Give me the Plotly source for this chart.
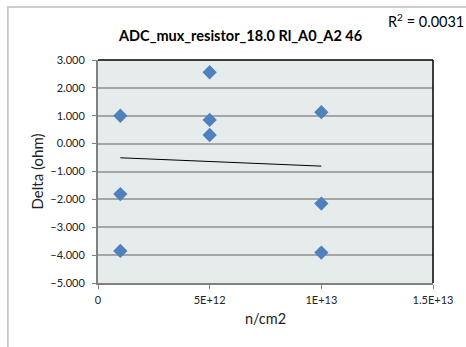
import numpy as np
import plotly.graph_objects as go

# Measured points (fluence in n/cm2, delta in ohm)
fluence = [1e12, 1e12, 1e12, 5e12, 5e12, 5e12, 1e13, 1e13, 1e13]
delta = [1.00, -1.81, -3.85, 2.56, 0.85, 0.31, 1.13, -2.15, -3.91]

x_tickvals = [0, 5e12, 1e13, 1.5e13]
x_ticktext = ["0", "5E+12", "1E+13", "1.5E+13"]
y_tickvals = [3, 2, 1, 0, -1, -2, -3, -4, -5]

title_text = "ADC_mux_resistor_18.0 Rl_A0_A2 46"
r2_text = "R<sup>2</sup> = 0.0031"

# Linear trendline fitted to the data
slope, intercept = np.polyfit(np.array(fluence) / 1e12, delta, 1)
trend_x = np.array([min(fluence), max(fluence)])
trend_y = slope * trend_x / 1e12 + intercept

FONT = "Lato, Open Sans, sans-serif"

fig = go.Figure()

fig.add_trace(
    go.Scatter(
        x=trend_x,
        y=trend_y,
        mode="lines",
        line=dict(color="black", width=1),
        hoverinfo="skip",
    )
)
fig.add_trace(
    go.Scatter(
        x=fluence,
        y=delta,
        mode="markers",
        marker=dict(symbol="diamond", size=11, color="#4F81BD"),
    )
)

fig.update_layout(
    width=466,
    height=347,
    showlegend=False,
    plot_bgcolor="#E6ECEC",
    paper_bgcolor="white",
    margin=dict(l=98, r=33, t=60, b=64),
    font=dict(family=FONT, size=11, color="#222222"),
    xaxis=dict(
        range=[0, 1.5e13],
        tickvals=x_tickvals,
        ticktext=x_ticktext,
        showgrid=False,
        zeroline=False,
        showline=True,
        linecolor="#808080",
        linewidth=2,
        ticks="outside",
        ticklen=4,
        tickcolor="#808080",
        ticklabelstandoff=2,
        title=dict(text="n/cm2", font=dict(size=14.5, family=FONT), standoff=9),
    ),
    yaxis=dict(
        range=[-5, 3],
        tickvals=y_tickvals,
        tickformat=".3f",
        showgrid=True,
        gridcolor="#A6A6A6",
        gridwidth=1.5,
        zeroline=False,
        showline=True,
        linecolor="#808080",
        linewidth=2,
        ticks="outside",
        ticklen=4,
        tickcolor="#808080",
        ticklabelstandoff=5,
        title=dict(text="Delta (ohm)", font=dict(size=15, family=FONT), standoff=3),
    ),
    shapes=[
        # outer chart border
        dict(type="rect", xref="paper", yref="paper",
             x0=-0.269, y0=-0.6, x1=1.3, y1=1.238,
             line=dict(color="#BFBFBF", width=1.5), layer="below"),
        # top and right edges of the plot area
        dict(type="line", xref="paper", yref="paper", x0=0, y0=1, x1=1, y1=1,
             line=dict(color="black", width=1.5)),
        dict(type="line", xref="paper", yref="paper", x0=1, y0=0, x1=1, y1=1,
             line=dict(color="black", width=1.5)),
    ],
    annotations=[
        dict(text="<b>" + title_text + "</b>", xref="paper", yref="paper",
             x=0.424, y=1.112, xanchor="center", yanchor="middle", showarrow=False,
             font=dict(size=14.5, color="black", family=FONT)),
        dict(text=r2_text, xref="paper", yref="paper",
             x=1.0985, y=1.179, xanchor="right", yanchor="middle", showarrow=False,
             font=dict(size=14.5, color="black", family=FONT)),
    ],
)

# the page's default body margin would shift the fixed-size figure
fig.write_html(
    "out.html",
    config={"displayModeBar": False},
    post_script="document.body.style.margin='0';",
)
